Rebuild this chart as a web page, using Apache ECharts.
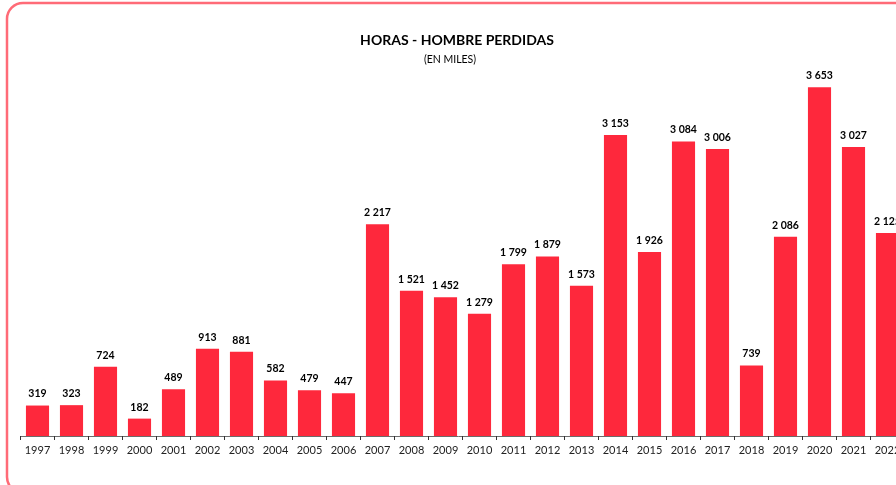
<!DOCTYPE html>
<html>
<head>
<meta charset="utf-8">
<script src="https://cdn.jsdelivr.net/npm/echarts@6/dist/echarts.min.js"></script>
<style>
html, body { margin: 0; padding: 0; background: #fff; }
#app { width: 896px; height: 485px; }
</style>
</head>
<body>
<div id="app"></div>
<script>
const years = ['1997', '1998', '1999', '2000', '2001', '2002', '2003', '2004', '2005', '2006',
    '2007', '2008', '2009', '2010', '2011', '2012', '2013', '2014', '2015', '2016',
    '2017', '2018', '2019', '2020', '2021', '2022'];
const horas = [319, 323, 724, 182, 489, 913, 881, 582, 479, 447,
    2217, 1521, 1452, 1279, 1799, 1879, 1573, 3153, 1926, 3084,
    3006, 739, 2086, 3653, 3027, 2125];

// miles con espacio: 2217 -> "2 217"
const fmt = v => String(v).replace(/\B(?=(\d{3})+(?!\d))/g, ' ');

const myChart = echarts.init(document.getElementById('app'));
const font = 'Lato, "Open Sans", sans-serif';

myChart.setOption({
    animation: false,
    title: [{
        text: 'HORAS - HOMBRE PERDIDAS',
        left: 452,
        top: 28,
        textAlign: 'center',
        textStyle: { fontFamily: font, fontSize: 14, fontWeight: 'bold', color: '#000' }
    }, {
        text: '(EN MILES)',
        left: 445,
        top: 49,
        textAlign: 'center',
        textStyle: { fontFamily: font, fontSize: 10.5, fontWeight: 'normal', color: '#000' }
    }],
    graphic: [{
        type: 'rect',
        shape: { x: 7, y: 3, width: 910, height: 490, r: 16 },
        style: { fill: 'none', stroke: '#FF6B77', lineWidth: 2.5 },
        silent: true
    }],
    grid: { left: 20.5, top: 54, width: 884, height: 382, outerBoundsMode: 'none', containLabel: false },
    xAxis: {
        type: 'category',
        data: years,
        axisLine: { lineStyle: { color: '#6b6b6b', width: 1 } },
        axisTick: { show: true, length: 4, lineStyle: { color: '#333' } },
        axisLabel: { fontFamily: font, fontSize: 11, color: '#222', margin: 9 }
    },
    yAxis: {
        type: 'value',
        min: 0,
        max: 4000,
        show: false,
        splitLine: { show: false }
    },
    series: [{
        type: 'bar',
        data: horas,
        barCategoryGap: '32%',
        itemStyle: { color: '#FE283C' },
        label: {
            show: true,
            position: 'top',
            distance: 6,
            formatter: p => fmt(p.value),
            fontFamily: font,
            fontSize: 10.5,
            fontWeight: 'bold',
            color: '#000'
        }
    }]
});
</script>
</body>
</html>
